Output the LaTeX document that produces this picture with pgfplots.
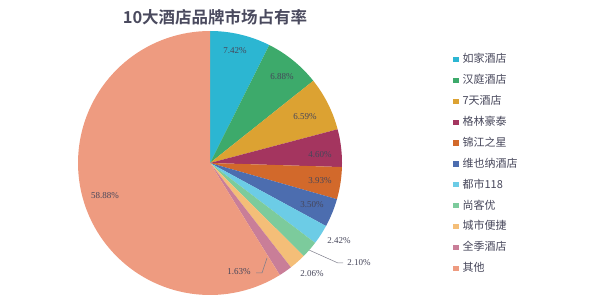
\documentclass[border=0pt]{standalone}
\usepackage{pgfplots}
\usepackage{pgfplotstable}
\pgfplotsset{compat=1.18}
\usepackage{fontspec}
\setmainfont{Liberation Serif}
\newfontfamily\cjk[BoldFont={Noto Sans CJK SC Bold}]{Noto Sans CJK SC}
\definecolor{c1}{HTML}{2CB6D2}
\definecolor{c2}{HTML}{3DAA6B}
\definecolor{c3}{HTML}{DCA232}
\definecolor{c4}{HTML}{A4355F}
\definecolor{c5}{HTML}{D2692B}
\definecolor{c6}{HTML}{4C6DAF}
\definecolor{c7}{HTML}{6CCCE6}
\definecolor{c8}{HTML}{7CCB9C}
\definecolor{c9}{HTML}{F4BE78}
\definecolor{c10}{HTML}{C97E98}
\definecolor{c11}{HTML}{EE9B80}
\definecolor{labc}{HTML}{46465A}
\definecolor{titlec}{HTML}{4A4A5E}
\pgfplotstableread[col sep=comma]{
name,share,color
如家酒店,7.42,c1
汉庭酒店,6.88,c2
7天酒店,6.59,c3
格林豪泰,4.60,c4
锦江之星,3.93,c5
维也纳酒店,3.50,c6
都市118,2.42,c7
尚客优,2.10,c8
城市便捷,2.06,c9
全季酒店,1.63,c10
其他,58.88,c11
}\piedata
\pgfplotstablegetrowsof{\piedata}
\pgfmathtruncatemacro\lastrow{\pgfplotsretval-1}
\gdef\cum{0}
\begin{document}
\begin{tikzpicture}
\begin{axis}[
  scale only axis, width=600pt, height=308pt,
  xmin=0, xmax=600, ymin=0, ymax=308,
  hide axis, clip=false,
  legend image code/.code={\fill[#1] (0pt,-2.6pt) rectangle (5.4pt,2.6pt);},
  legend style={at={(axis cs:453,254)}, anchor=north west, draw=none, fill=none,
    font=\cjk\fontsize{11}{11}\selectfont, text=labc,
    nodes={inner sep=0pt, text height=8.5pt, text depth=2pt},
    row sep=10.4pt, column sep=4pt, inner sep=0pt},
  legend cell align=left,
]
\foreach \i in {0,...,\lastrow}{
  \pgfplotstablegetelem{\i}{share}\of\piedata \let\v\pgfplotsretval
  \pgfplotstablegetelem{\i}{color}\of\piedata \let\c\pgfplotsretval
  \pgfplotstablegetelem{\i}{name}\of\piedata \let\n\pgfplotsretval
  \pgfmathsetmacro\aone{90-3.6*\cum}
  \pgfmathsetmacro\atwo{90-3.6*(\cum+\v)}
  \edef\temp{\noexpand\addplot[fill=\c, draw=none, domain=\atwo:\aone, samples=90, variable=\noexpand\t] ({210+132*cos(\noexpand\t)},{145+132*sin(\noexpand\t)}) -- (axis cs:210,145) -- cycle; \noexpand\addlegendentry{\n}}
  \temp
  \pgfmathsetmacro\newcum{\cum+\v}
  \xdef\cum{\newcum}
}
\path (axis cs:0,0) rectangle (axis cs:600,308);
\node[font=\cjk\bfseries\fontsize{16.5}{16.5}\selectfont, text=titlec] at (axis cs:215,291) {10大酒店品牌市场占有率};
\begin{scope}[every node/.style={font=\fontsize{9}{9}\selectfont, text=labc, inner sep=0pt}]
\node at (axis cs:235,257) {7.42\%};
\node at (axis cs:282,231) {6.88\%};
\node at (axis cs:305,191) {6.59\%};
\node at (axis cs:320,153) {4.60\%};
\node at (axis cs:320,127) {3.93\%};
\node at (axis cs:312,103) {3.50\%};
\node at (axis cs:339,67) {2.42\%};
\node at (axis cs:359,45) {2.10\%};
\node at (axis cs:312,34) {2.06\%};
\node at (axis cs:239,36) {1.63\%};
\node at (axis cs:105,112) {58.88\%};
\end{scope}
\draw[labc!70, line width=0.5pt] (axis cs:309,58) -- (axis cs:338,45) -- (axis cs:343,45);
\draw[labc!70, line width=0.5pt] (axis cs:256,35) -- (axis cs:262,35) -- (axis cs:267,50);
\end{axis}
\end{tikzpicture}
\end{document}
